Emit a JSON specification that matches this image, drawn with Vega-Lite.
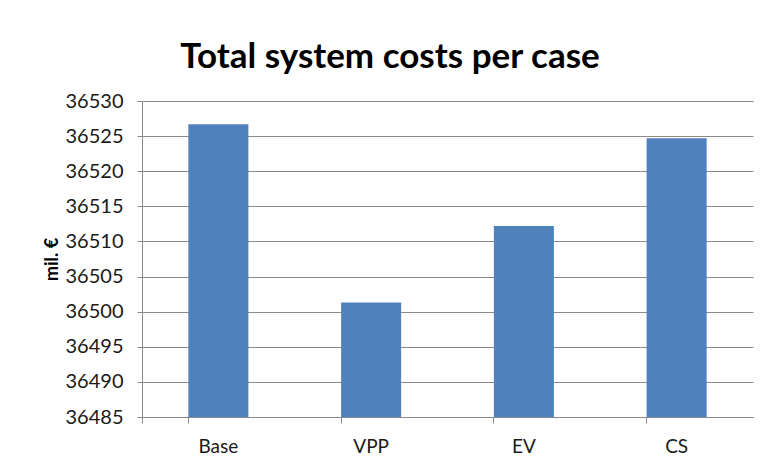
{
  "$schema": "https://vega.github.io/schema/vega-lite/v6.json",
  "width": 611,
  "height": 316,
  "autosize": {"type": "none"},
  "padding": {"left": 142, "top": 101, "right": 9, "bottom": 44},
  "background": "white",
  "title": {
    "text": "Total system costs per case",
    "font": "Lato",
    "fontSize": 35,
    "fontWeight": "bold",
    "color": "#000000",
    "anchor": "middle",
    "frame": "bounds",
    "baseline": "alphabetic",
    "offset": -12,
    "dx": -8
  },
  "data": {
    "values": [
      {"case": "Base", "cost": 36526.7},
      {"case": "VPP", "cost": 36501.3},
      {"case": "EV", "cost": 36512.2},
      {"case": "CS", "cost": 36524.7}
    ]
  },
  "mark": {"type": "bar", "color": "#4F81BD"},
  "encoding": {
    "x": {
      "field": "case",
      "type": "nominal",
      "sort": null,
      "scale": {"paddingInner": 0.607, "paddingOuter": 0.3035},
      "axis": {
        "title": null,
        "labelAngle": 0,
        "bandPosition": 0,
        "tickExtra": true,
        "grid": false,
        "tickSize": 6,
        "labelPadding": 14,
        "labelFont": "Lato",
        "labelFontSize": 19,
        "labelColor": "#1a1a1a",
        "domainColor": "#8a8a8a",
        "tickColor": "#8a8a8a"
      }
    },
    "y": {
      "field": "cost",
      "type": "quantitative",
      "scale": {"domain": [36485, 36530], "zero": false, "nice": false},
      "axis": {
        "title": "mil. €",
        "titleFont": "Lato",
        "titleFontSize": 18,
        "titleFontWeight": "bold",
        "titleColor": "#000000",
        "titlePadding": 4,
        "values": [36485, 36490, 36495, 36500, 36505, 36510, 36515, 36520, 36525, 36530],
        "format": "d",
        "labelFont": "Lato",
        "labelFontSize": 20,
        "labelColor": "#1a1a1a",
        "labelPadding": 14,
        "tickSize": 5,
        "grid": true,
        "gridColor": "#8a8a8a",
        "gridWidth": 1,
        "domainColor": "#8a8a8a",
        "tickColor": "#8a8a8a"
      }
    },
    "y2": {"datum": 36485}
  },
  "config": {"view": {"stroke": null}}
}
